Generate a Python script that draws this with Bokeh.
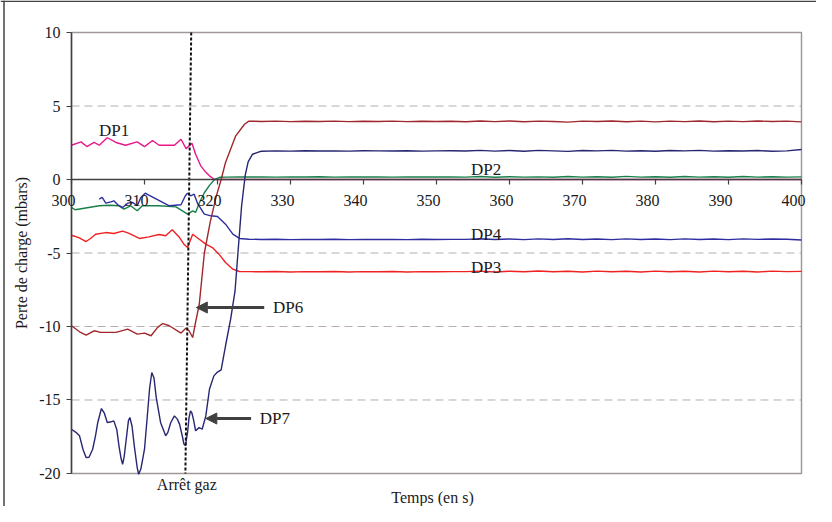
from bokeh.plotting import figure
from bokeh.models import Range1d, FixedTicker, Label, Arrow, NormalHead, Span
from bokeh.embed import file_html
from bokeh.resources import INLINE

# ---------------- data ----------------
x_ticks = [300, 310, 320, 330, 340, 350, 360, 370, 380, 390, 400]
x_tick_labels = ["300", "310", "320", "330", "340", "350", "360", "370", "380", "390", "400"]
y_ticks = [-20, -15, -10, -5, 0, 5, 10]
y_tick_labels = ["-20", "-15", "-10", "-5", "0", "5", "10"]
grid_levels = [-15, -10, -5, 5]

plateau_t = [326, 328, 330, 332, 334, 336, 338, 340, 342, 344, 346, 348, 350, 352,
             354, 356, 358, 360, 362, 364, 366, 368, 370, 372, 374, 376, 378, 380,
             382, 384, 386, 388, 390, 392, 394, 396, 398, 400]

dp1_t = [300.0, 301.3, 302.1, 303.1, 303.8, 304.9, 306.1, 307.4, 309.0, 310.0, 311.1,
         312.0, 314.1, 315.0, 315.7, 316.5, 317.0, 317.7, 318.3, 318.9, 319.6, 340.0,
         360.0, 380.0, 400.0]
dp1_v = [2.33, 2.56, 2.24, 2.52, 2.33, 2.84, 2.52, 2.33, 2.56, 2.24, 2.65,
         2.33, 2.33, 2.74, 2.10, 2.47, 1.72, 0.93, 0.55, 0.25, 0.0, 0.0,
         0.0, 0.0, 0.0]

dp2_t = [300.0, 300.5, 303.8, 305.2, 306.5, 307.2, 308.1, 309.0, 309.7, 312.0, 314.3,
         315.2, 315.9, 316.6, 317.0, 317.5, 318.2, 318.9, 319.6, 320.3, 321.2, 323.0, 324.5]
dp2_v = [-1.90, -2.06, -1.79, -1.75, -1.79, -2.02, -1.79, -2.13, -1.79, -1.79, -1.86,
         -2.13, -2.36, -2.13, -2.24, -1.60, -0.90, -0.40, 0.00, 0.15, 0.16, 0.18, 0.17]
dp2_plateau = [0.18, 0.16, 0.18, 0.17, 0.19, 0.16, 0.18, 0.17, 0.18, 0.16, 0.18, 0.17, 0.18, 0.17,
               0.16, 0.20, 0.15, 0.19, 0.16, 0.18, 0.15, 0.20, 0.16, 0.19, 0.15, 0.21, 0.16, 0.19,
               0.15, 0.20, 0.16, 0.19, 0.15, 0.20, 0.16, 0.19, 0.16, 0.18]

dp3_t = [300.0, 301.0, 302.0, 302.6, 303.3, 304.7, 305.8, 307.0, 307.9, 309.3, 310.6,
         312.0, 312.9, 313.8, 314.8, 315.4, 315.9, 316.6, 317.5, 318.4, 319.3, 320.2,
         321.1, 322.1, 323.0, 324.5]
dp3_v = [-3.79, -3.95, -4.22, -4.01, -3.72, -3.61, -3.67, -3.51, -3.67, -4.01, -3.90,
         -3.74, -3.83, -3.42, -3.95, -4.40, -4.63, -3.72, -4.06, -4.40, -4.63, -5.08,
         -5.65, -6.10, -6.26, -6.27]
dp3_plateau = [-6.28, -6.26, -6.29, -6.27, -6.28, -6.26, -6.29, -6.27, -6.28, -6.26, -6.29, -6.27, -6.28, -6.27,
               -6.27, -6.23, -6.29, -6.24, -6.28, -6.22, -6.28, -6.24, -6.29, -6.23, -6.28, -6.24, -6.29, -6.23,
               -6.28, -6.24, -6.29, -6.23, -6.28, -6.24, -6.29, -6.23, -6.27, -6.25]

dp4_t = [303.8, 304.2, 304.7, 305.4, 305.8, 306.4, 307.0, 307.7, 308.4, 309.0, 309.5,
         310.1, 310.6, 313.4, 315.0, 315.6, 315.9, 316.3, 316.8, 317.3, 318.2, 319.1,
         320.0, 321.1, 322.1, 323.0, 324.3]
dp4_v = [-1.34, -1.22, -1.61, -1.52, -1.45, -1.75, -1.90, -1.61, -1.56, -1.79, -1.22,
         -0.93, -1.07, -1.79, -1.72, -1.11, -0.93, -1.11, -1.00, -1.66, -2.36, -2.47,
         -2.52, -3.04, -3.72, -4.01, -4.06]
dp4_plateau = [-4.08, -4.06, -4.09, -4.07, -4.08, -4.06, -4.09, -4.07, -4.08, -4.07, -4.09, -4.06, -4.08, -4.07,
               -4.07, -4.03, -4.08, -4.05, -4.09, -4.04, -4.08, -4.03, -4.08, -4.05, -4.09, -4.04, -4.08, -4.05,
               -4.09, -4.04, -4.08, -4.05, -4.09, -4.04, -4.07, -4.05, -4.06, -4.12]

dp6_t = [300.0, 301.1, 302.0, 303.1, 304.0, 306.1, 307.7, 309.0, 310.0, 310.9, 311.8,
         312.5, 313.4, 315.0, 315.7, 316.1, 316.6, 316.9, 317.5, 318.2, 319.0, 319.8,
         320.5, 321.1, 322.5, 323.7, 324.3]
dp6_v = [-9.95, -10.36, -10.59, -10.29, -10.40, -10.40, -10.18, -10.52, -10.45, -10.63, -10.06,
         -9.80, -9.95, -10.45, -10.11, -10.29, -10.75, -9.95, -8.50, -5.00, -2.90, -1.20,
         0.00, 1.16, 2.97, 3.76, 3.97]
dp6_plateau = [3.95, 3.97, 3.94, 3.96, 3.95, 3.97, 3.94, 3.96, 3.95, 3.97, 3.94, 3.96, 3.95, 3.96,
               3.93, 3.98, 3.94, 3.98, 3.93, 3.97, 3.95, 3.90, 3.97, 3.95, 3.98, 3.93, 3.97, 3.92,
               3.97, 3.94, 3.98, 3.93, 3.97, 3.94, 3.98, 3.95, 3.97, 3.92]

dp7_t = [300.0, 300.6, 301.1, 301.6, 302.0, 302.4, 302.9, 303.3, 303.6, 304.1, 304.5,
         304.9, 305.3, 305.8, 306.2, 306.5, 306.8, 307.0, 307.2, 307.5, 307.8, 308.0,
         308.3, 308.6, 309.0, 309.2, 309.5, 310.0, 310.4, 310.7, 311.0, 311.3, 311.6,
         312.2, 312.9, 313.2, 313.6, 314.1, 314.5, 314.8, 315.2, 315.4, 315.6, 315.9,
         316.1, 316.3, 316.5, 316.7, 317.0, 317.2, 317.5, 317.9, 318.4, 318.9, 319.5,
         320.0, 320.5, 321.1, 321.8, 322.4, 322.8, 323.3, 323.8, 324.2, 324.8, 325.7]
dp7_v = [-16.99, -17.20, -17.44, -18.40, -18.91, -18.90, -18.35, -17.40, -16.53, -15.58, -15.90,
         -16.53, -16.50, -16.42, -17.00, -18.12, -19.00, -19.37, -18.90, -17.67, -16.40, -16.19,
         -16.80, -18.12, -19.60, -20.05, -19.70, -18.35, -16.00, -14.20, -13.13, -13.50, -14.80,
         -16.53, -17.44, -17.20, -16.53, -16.08, -16.30, -16.64, -17.50, -18.00, -18.10, -17.21,
         -16.20, -15.74, -15.90, -16.30, -17.10, -17.00, -16.87, -16.99, -16.08, -14.27, -13.36,
         -13.10, -12.95, -11.31, -9.50, -7.60, -5.00, -1.80, 0.30, 1.20, 1.72, 1.88]
dp7_plateau = [1.92, 1.95, 1.93, 1.96, 1.94, 1.95, 1.93, 1.96, 1.95, 1.94, 1.96, 1.93, 1.95, 1.96,
               1.94, 1.98, 1.93, 1.97, 1.92, 1.98, 1.95, 1.91, 1.97, 1.95, 1.98, 1.93, 1.96, 1.92,
               1.97, 1.95, 1.98, 1.93, 1.96, 1.94, 1.97, 1.92, 1.95, 2.04]

arret_t = [316.4, 315.6]
arret_v = [10, -20]

# ---------------- layout / styles ----------------
FONT = "Liberation Serif"
C_DP1 = "#E8178A"
C_DP2 = "#17804A"
C_DP3 = "#EE2222"
C_DP4 = "#2E2EA0"
C_DP6 = "#A0282C"
C_DP7 = "#262673"
TXT = "#1a1a1a"
X_MIN, X_MAX, Y_MIN, Y_MAX = 300, 400, -20, 10

# the frame fills the whole canvas; axes sit at fixed locations inside it
p = figure(width=816, height=506, title=None,
           x_range=Range1d(290.274, 402.055), y_range=Range1d(-22.245, 12.177),
           output_backend="svg", toolbar_location=None,
           min_border_left=0, min_border_right=0, min_border_top=0, min_border_bottom=0)
p.background_fill_color = "white"
p.border_fill_color = "white"
p.outline_line_color = None
p.xgrid.visible = False
p.ygrid.visible = False

# outer chart frame (top and left edges)
p.add_layout(Span(location=290.753, dimension="height", line_color="#444444", line_width=1.5))
p.add_layout(Span(location=12.13, dimension="width", line_color="#444444", line_width=1.5))

# plot area: dashed grid + grey border
p.segment(x0=X_MIN, y0=grid_levels, x1=X_MAX, y1=grid_levels,
          line_color="#B8AEAE", line_dash="8 5", line_width=1)
p.quad(left=[X_MIN], right=[X_MAX], bottom=[Y_MIN], top=[Y_MAX],
       fill_color=None, line_color="#A09898", line_width=1.5)

p.xaxis.ticker = FixedTicker(ticks=x_ticks)
p.xaxis.fixed_location = 0
p.xaxis.bounds = (X_MIN, X_MAX)
p.xaxis.major_label_overrides = {t: "" for t in x_ticks}
p.yaxis.ticker = FixedTicker(ticks=y_ticks)
p.yaxis.fixed_location = X_MIN
p.yaxis.bounds = (Y_MIN, Y_MAX)
p.yaxis.major_label_overrides = {t: s for t, s in zip(y_ticks, y_tick_labels)}
for ax in (p.xaxis, p.yaxis):
    ax.axis_line_color = "#404040"
    ax.axis_line_width = 1.5
    ax.major_tick_line_color = "#404040"
    ax.major_tick_line_width = 1.2
    ax.major_tick_in = 0
    ax.major_tick_out = 5
    ax.minor_tick_line_color = None
    ax.major_label_text_font = FONT
    ax.major_label_text_font_size = "16px"
    ax.major_label_text_color = TXT
p.yaxis.major_label_standoff = 6
p.yaxis.axis_label = "Perte de charge (mbars)"
p.yaxis.axis_label_text_font = FONT
p.yaxis.axis_label_text_font_size = "16px"
p.yaxis.axis_label_text_font_style = "normal"
p.yaxis.axis_label_text_color = TXT
p.yaxis.axis_label_standoff = 6

# x tick labels
for t, s in zip(x_ticks, x_tick_labels):
    p.add_layout(Label(x=t, y=0, text=s, x_offset=-8, y_offset=-21,
                       text_align="center", text_baseline="middle",
                       text_font=FONT, text_font_size="16px", text_color=TXT))

# ---------------- series ----------------
lw = 1.4
p.line(dp1_t, dp1_v, line_color=C_DP1, line_width=lw)
p.line(dp2_t + plateau_t, dp2_v + dp2_plateau, line_color=C_DP2, line_width=lw)
p.line(dp3_t + plateau_t, dp3_v + dp3_plateau, line_color=C_DP3, line_width=lw)
p.line(dp4_t + plateau_t, dp4_v + dp4_plateau, line_color=C_DP4, line_width=lw)
p.line(dp6_t + plateau_t, dp6_v + dp6_plateau, line_color=C_DP6, line_width=lw)
p.line(dp7_t + plateau_t, dp7_v + dp7_plateau, line_color=C_DP7, line_width=lw)

p.line(arret_t, arret_v, line_color="#111111", line_width=2, line_dash="3 2")

# ---------------- annotations ----------------
series_names = ["DP1", "DP2", "DP4", "DP3"]
name_x = [305.85, 356.8, 356.8, 356.8]
name_y = [3.35, 0.66, -3.72, -5.96]
for n, xx, yy in zip(series_names, name_x, name_y):
    p.add_layout(Label(x=xx, y=yy, text=n, text_align="center", text_baseline="middle",
                       text_font=FONT, text_font_size="17px", text_color=TXT))

arrow_names = ["DP6", "DP7"]
arrow_text_x = [327.6, 325.8]
arrow_y = [-8.71, -16.26]
arrow_start = [326.4, 324.6]
arrow_end = [317.1, 318.4]
for n, tx, yy, xs, xe in zip(arrow_names, arrow_text_x, arrow_y, arrow_start, arrow_end):
    p.add_layout(Label(x=tx, y=yy, text=n, text_align="left", text_baseline="middle",
                       text_font=FONT, text_font_size="17px", text_color=TXT))
    p.add_layout(Arrow(x_start=xs, y_start=yy, x_end=xe, y_end=yy,
                       line_color="#404040", line_width=3,
                       end=NormalHead(size=11, fill_color="#404040", line_color="#404040")))

p.add_layout(Label(x=315.8, y=Y_MIN, y_offset=-11, text="Arrêt gaz", text_align="center",
                   text_baseline="middle", text_font=FONT, text_font_size="16px",
                   text_color=TXT))
p.add_layout(Label(x=350, y=Y_MIN, y_offset=-24, text="Temps (en   s)", text_align="center",
                   text_baseline="middle", text_font=FONT, text_font_size="16px",
                   text_color=TXT))

open("out.html", "w").write(file_html(p, INLINE))
